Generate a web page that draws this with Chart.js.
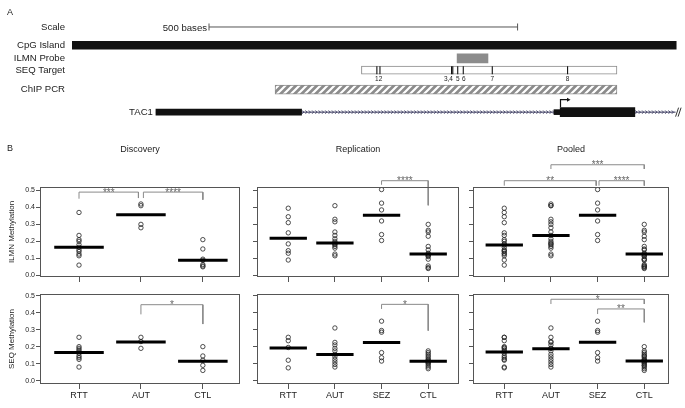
<!DOCTYPE html>
<html>
<head>
<meta charset="utf-8">
<script src="https://cdn.jsdelivr.net/npm/chart.js@4.4.1/dist/chart.umd.min.js"></script>
<style>
  html, body { margin: 0; padding: 0; background: #fff; }
  #page { position: relative; width: 685px; height: 408px; overflow: hidden; font-family: Arial, "Liberation Sans", sans-serif; }
  .box { position: absolute; }
  .box canvas { display: block; }
  .tag { position: absolute; font-size: 9px; line-height: 10px; color: #222; }
</style>
</head>
<body>
<div id="page">
  <div class="box" style="left:0; top:0; width:685px; height:130px;"><canvas id="gene"></canvas></div>
  <div class="box" style="left:0; top:140px; width:245px; height:145px;"><canvas id="ilmnDisc"></canvas></div>
  <div class="box" style="left:245px; top:140px; width:220px; height:145px;"><canvas id="ilmnRep"></canvas></div>
  <div class="box" style="left:465px; top:140px; width:220px; height:145px;"><canvas id="ilmnPool"></canvas></div>
  <div class="box" style="left:0; top:285px; width:245px; height:123px;"><canvas id="seqDisc"></canvas></div>
  <div class="box" style="left:245px; top:285px; width:220px; height:123px;"><canvas id="seqRep"></canvas></div>
  <div class="box" style="left:465px; top:285px; width:220px; height:123px;"><canvas id="seqPool"></canvas></div>
  <div class="tag" style="left:7px; top:7px;">A</div>
  <div class="tag" style="left:7px; top:143px;">B</div>
</div>
<script>
// ---- panel A: TAC1 locus (positions in bases) ----
const trackNames = ['Scale', 'CpG Island', 'ILMN Probe', 'SEQ Target', 'ChIP PCR', 'TAC1'];
const trackRow = [0, 3, 5.15, 7.1, 10.3, 14];
const scaleBar = [222, 722];
const cpgIsland = [0, 979];
const ilmnProbe = [624, 674];
const seqTarget = [469, 883];
const cpgSites = [494, 499, 615, 617, 625, 634, 681, 803];
const cpgSiteLabels = ['12', '3,4', '5', '6', '7', '8'];
const cpgSiteLabelAt = [497, 610, 625, 635, 681, 803];
const chipPcr = [329, 883];
const tac1Span = [136, 978];
const tac1Exons = [[136, 372], [781, 791], [791, 912]];
const tac1Tss = 791;

// ---- panel B: methylation values ----
const discoveryGroups = ['RTT', 'AUT', 'CTL'];
const allGroups = ['RTT', 'AUT', 'SEZ', 'CTL'];
const yTicks = [0, 0.1, 0.2, 0.3, 0.4, 0.5];

const ilmnDiscRTT = [0.37, 0.235, 0.21, 0.2, 0.18, 0.165, 0.15, 0.14, 0.125, 0.115, 0.06];
const ilmnDiscAUT = [0.42, 0.41, 0.3, 0.28];
const ilmnDiscCTL = [0.21, 0.155, 0.095, 0.088, 0.063, 0.055, 0.05];
const ilmnRepRTT = [0.395, 0.345, 0.31, 0.25, 0.185, 0.145, 0.13, 0.09];
const ilmnRepAUT = [0.41, 0.33, 0.315, 0.255, 0.235, 0.215, 0.2, 0.19, 0.185, 0.18, 0.17, 0.16, 0.125, 0.115];
const ilmnRepSEZ = [0.505, 0.425, 0.385, 0.32, 0.24, 0.205];
const ilmnRepCTL = [0.3, 0.265, 0.255, 0.23, 0.17, 0.15, 0.13, 0.125, 0.12, 0.115, 0.11, 0.095, 0.055, 0.045, 0.04];

const seqDiscRTT = [0.255, 0.2, 0.19, 0.18, 0.17, 0.16, 0.145, 0.135, 0.125, 0.08];
const seqDiscAUT = [0.255, 0.23, 0.19];
const seqDiscCTL = [0.2, 0.145, 0.12, 0.09, 0.06];
const seqRepRTT = [0.255, 0.235, 0.195, 0.12, 0.075];
const seqRepAUT = [0.31, 0.225, 0.21, 0.19, 0.175, 0.155, 0.14, 0.125, 0.11, 0.095, 0.08];
const seqRepSEZ = [0.35, 0.295, 0.285, 0.165, 0.135, 0.115];
const seqRepCTL = [0.175, 0.165, 0.155, 0.145, 0.135, 0.125, 0.12, 0.115, 0.11, 0.105, 0.1, 0.09, 0.08, 0.07];

const ilmnDiscMedian = [0.165, 0.357, 0.088];
const ilmnRepMedian = [0.218, 0.19, 0.353, 0.125];
const ilmnPoolMedian = [0.178, 0.234, 0.353, 0.125];
const seqDiscMedian = [0.165, 0.228, 0.114];
const seqRepMedian = [0.192, 0.153, 0.224, 0.114];
const seqPoolMedian = [0.168, 0.187, 0.226, 0.116];

// [from, to, bracket level, left leg end, right leg end, stars]
const ilmnDiscBrackets = [[1, 1.96, 0.49, 0.451, 0.455, '***'], [2.04, 3, 0.49, 0.455, 0.445, '****']];
const ilmnRepBrackets = [[3, 4, 0.557, 0.533, 0.412, '****']];
const ilmnPoolBrackets = [[1, 2.97, 0.557, 0.528, 0.528, '**'], [3.03, 4, 0.557, 0.528, 0.528, '****'], [2, 4, 0.651, 0.626, 0.626, '***']];
const seqDiscBrackets = [[2, 3, 0.447, 0.39, 0.333, '*']];
const seqRepBrackets = [[3, 4, 0.449, 0.422, 0.294, '*']];
const seqPoolBrackets = [[2, 4, 0.479, 0.451, 0.451, '*'], [3, 4, 0.422, 0.392, 0.343, '**']];

const FONT = 'Arial, "Liberation Sans", sans-serif';
Chart.defaults.font.family = FONT;
Chart.defaults.color = '#222';
Chart.defaults.animation = false;

// ---------- panel A ----------
function hatch() {
  const c = document.createElement('canvas');
  c.width = 7; c.height = 7;
  const g = c.getContext('2d');
  g.fillStyle = '#8c8c8c';
  g.fillRect(0, 0, 7, 7);
  g.strokeStyle = '#fff';
  g.lineWidth = 2.2;
  g.beginPath();
  g.moveTo(-1, 1); g.lineTo(1, -1);
  g.moveTo(-1, 8); g.lineTo(8, -1);
  g.moveTo(6, 8); g.lineTo(8, 6);
  g.stroke();
  return g.createPattern(c, 'repeat');
}

const geneDecor = {
  id: 'geneDecor',
  beforeDatasetsDraw(chart) {
    const { ctx, scales: { x, y } } = chart;
    const gy = y.getPixelForValue(trackRow[5]);
    const x0 = x.getPixelForValue(tac1Span[0]);
    const x1 = x.getPixelForValue(tac1Span[1]);
    ctx.save();
    ctx.strokeStyle = '#34345a';
    ctx.lineWidth = 0.8;
    ctx.beginPath();
    for (let px = x0 + 2; px < x1 - 1; px += 3.3) {
      ctx.moveTo(px - 1, gy - 1.7);
      ctx.lineTo(px + 0.7, gy);
      ctx.lineTo(px - 1, gy + 1.7);
    }
    ctx.stroke();
    ctx.restore();
  },
  afterDatasetsDraw(chart) {
    const { ctx, scales: { x, y } } = chart;
    const gy = y.getPixelForValue(trackRow[5]);
    ctx.save();
    // break mark at the end of the drawn gene
    const xe = x.getPixelForValue(tac1Span[1]);
    ctx.strokeStyle = '#333';
    ctx.lineWidth = 1;
    ctx.beginPath();
    [1.5, 4].forEach(d => { ctx.moveTo(xe + d - 1.5, gy + 4.5); ctx.lineTo(xe + d + 1.5, gy - 4.5); });
    ctx.stroke();
    // transcription start arrow
    const xt = Math.round(x.getPixelForValue(tac1Tss)) + 0.5;
    ctx.strokeStyle = '#111';
    ctx.lineWidth = 1.2;
    ctx.beginPath();
    ctx.moveTo(xt, gy - 5);
    ctx.lineTo(xt, gy - 12.5);
    ctx.lineTo(xt + 7, gy - 12.5);
    ctx.stroke();
    ctx.fillStyle = '#111';
    ctx.beginPath();
    ctx.moveTo(xt + 10, gy - 12.5);
    ctx.lineTo(xt + 6.5, gy - 14.5);
    ctx.lineTo(xt + 6.5, gy - 10.5);
    ctx.closePath();
    ctx.fill();
    // texts
    ctx.fillStyle = '#222';
    ctx.textBaseline = 'middle';
    ctx.textAlign = 'right';
    ctx.font = '9.6px ' + FONT;
    ctx.fillText('500 bases', x.getPixelForValue(scaleBar[0]) - 2, y.getPixelForValue(trackRow[0]) + 1);
    ctx.fillText(trackNames[5], x.getPixelForValue(tac1Span[0]) - 3, gy + 0.5);
    ctx.textAlign = 'center';
    ctx.font = '6.5px ' + FONT;
    const ly = y.getPixelForValue(trackRow[3]) + 9.5;
    cpgSiteLabels.forEach((t, i) => ctx.fillText(t, x.getPixelForValue(cpgSiteLabelAt[i]), ly));
    ctx.restore();
  }
};

const exonThickness = [6, 5, 9];
const geneSets = [
  { type: 'scatter', order: 0, data: cpgSites.map(v => ({ x: v, y: trackRow[3] })),
    pointStyle: 'line', pointRotation: 90, pointRadius: 4, pointBorderColor: '#111', pointBorderWidth: 1.1 },
  { type: 'line', order: 1, data: scaleBar.map(v => ({ x: v, y: trackRow[0] })),
    borderColor: '#555', borderWidth: 1, pointStyle: 'line', pointRotation: 90, pointRadius: 3.5,
    pointBorderColor: '#555', pointBorderWidth: 1 },
  { type: 'bar', order: 1, indexAxis: 'y', grouped: false, barThickness: 8,
    data: [{ x: cpgIsland, y: trackRow[1] }], backgroundColor: '#111' },
  { type: 'bar', order: 1, indexAxis: 'y', grouped: false, barThickness: 9,
    data: [{ x: ilmnProbe, y: trackRow[2] }], backgroundColor: '#8c8c8c' },
  { type: 'bar', order: 2, indexAxis: 'y', grouped: false, barThickness: 8,
    data: [{ x: seqTarget, y: trackRow[3] }], backgroundColor: '#fff',
    borderColor: '#8a8a8a', borderWidth: 1, borderSkipped: false },
  { type: 'bar', order: 1, indexAxis: 'y', grouped: false, barThickness: 9,
    data: [{ x: chipPcr, y: trackRow[4] }], backgroundColor: hatch(),
    borderColor: '#8c8c8c', borderWidth: 1, borderSkipped: false },
  ...tac1Exons.map((e, i) => ({ type: 'bar', order: 1, indexAxis: 'y', grouped: false,
    barThickness: exonThickness[i], data: [{ x: e, y: trackRow[5] }], backgroundColor: '#111' })),
  { type: 'line', order: 5, data: tac1Span.map(v => ({ x: v, y: trackRow[5] })),
    borderColor: '#34345a', borderWidth: 1, pointRadius: 0 }
];

new Chart(document.getElementById('gene'), {
  type: 'bar',
  data: { datasets: geneSets },
  options: {
    responsive: true,
    maintainAspectRatio: false,
    layout: { padding: { left: 0, right: 5, top: 0, bottom: 0 } },
    scales: {
      x: { type: 'linear', min: 0, max: 985, offset: false, display: false },
      y: {
        type: 'linear', reverse: true, min: -3.6, max: 16.1, offset: false,
        afterBuildTicks: s => { s.ticks = trackRow.slice(0, 5).map(v => ({ value: v })); },
        ticks: { callback: v => trackNames[trackRow.indexOf(v)], font: { size: 9.6 }, color: '#222', padding: 7, autoSkip: false },
        grid: { display: false, drawTicks: false },
        border: { display: false },
        afterFit: s => { s.width = 72; s.paddingTop = 0; s.paddingBottom = 0; }
      }
    },
    plugins: { legend: { display: false }, tooltip: { enabled: false } }
  },
  plugins: [geneDecor]
});

// ---------- panel B ----------
const frameBox = {
  id: 'frameBox',
  afterDraw(chart) {
    const a = chart.chartArea, ctx = chart.ctx;
    ctx.save();
    ctx.strokeStyle = '#555';
    ctx.lineWidth = 1;
    ctx.strokeRect(Math.round(a.left) + 0.5, Math.round(a.top) + 0.5,
      Math.round(a.right - a.left) - 1, Math.round(a.bottom - a.top) - 1);
    ctx.restore();
  }
};

const starLabels = {
  id: 'starLabels',
  afterDatasetsDraw(chart, args, opts) {
    const { ctx, scales: { x, y } } = chart;
    ctx.save();
    ctx.fillStyle = '#666';
    ctx.font = '10px ' + FONT;
    ctx.textAlign = 'center';
    ctx.textBaseline = 'alphabetic';
    (opts.brackets || []).forEach(b => {
      ctx.fillText(b[5], x.getPixelForValue((b[0] + b[1]) / 2), y.getPixelForValue(b[2]) + 3.5);
    });
    ctx.restore();
  }
};

function methylPanel(id, cfg) {
  const datasets = [];
  cfg.medians.forEach((m, i) => {
    datasets.push({ type: 'line', data: [{ x: i + 0.6, y: m }, { x: i + 1.4, y: m }],
      borderColor: '#000', borderWidth: 3, pointRadius: 0, borderCapStyle: 'butt' });
  });
  cfg.values.forEach((vals, i) => {
    datasets.push({ type: 'scatter', data: vals.map(v => ({ x: i + 1, y: v })),
      pointStyle: 'circle', pointRadius: 2.2, pointBorderWidth: 0.8,
      pointBorderColor: '#222', pointBackgroundColor: 'rgba(0,0,0,0)' });
  });
  cfg.brackets.forEach(b => {
    datasets.push({ type: 'line', clip: false,
      data: [{ x: b[0], y: b[3] }, { x: b[0], y: b[2] }, { x: b[1], y: b[2] }, { x: b[1], y: b[4] }],
      borderColor: '#8a8a8a', borderWidth: 1, pointRadius: 0 });
  });

  return new Chart(document.getElementById(id), {
    type: 'scatter',
    data: { datasets },
    options: {
      responsive: true,
      maintainAspectRatio: false,
      layout: { padding: cfg.pad },
      scales: {
        x: {
          type: 'linear', min: cfg.xRange[0], max: cfg.xRange[1],
          afterBuildTicks: s => { s.ticks = cfg.groups.map((g, i) => ({ value: i + 1 })); },
          ticks: { display: cfg.xLabels, callback: v => cfg.groups[v - 1], font: { size: 9 },
            color: '#222', padding: 1, maxRotation: 0, autoSkip: false },
          grid: { display: true, drawOnChartArea: false, drawTicks: true, tickLength: 5, color: '#555' },
          border: { display: false },
          afterFit: s => { s.height = cfg.xHeight; s.paddingLeft = 0; s.paddingRight = 0; }
        },
        y: {
          type: 'linear', min: cfg.yRange[0], max: cfg.yRange[1],
          afterBuildTicks: s => { s.ticks = yTicks.map(v => ({ value: v })); },
          ticks: { display: !!cfg.yTitle, callback: v => v.toFixed(1), font: { size: 7 }, color: '#222', padding: 1 },
          grid: { display: true, drawOnChartArea: false, drawTicks: true, tickLength: 4, color: '#555' },
          border: { display: false },
          title: { display: !!cfg.yTitle, text: cfg.yTitle || '', font: { size: 8 }, color: '#222', padding: { top: 7, bottom: 0 } },
          afterFit: s => { s.width = cfg.yWidth; s.paddingTop = 0; s.paddingBottom = 0; }
        }
      },
      plugins: {
        legend: { display: false },
        tooltip: { enabled: false },
        title: cfg.title
          ? { display: true, text: cfg.title, fullSize: false, font: { size: 9, weight: 'normal' }, color: '#222', padding: { top: 4.6, bottom: 31.6 } }
          : { display: false },
        starLabels: { brackets: cfg.brackets }
      }
    },
    plugins: [frameBox, starLabels]
  });
}

const topRow = { yRange: [-0.01, 0.52], xHeight: 8, xLabels: false };
const bottomRow = { yRange: [-0.02, 0.51], xHeight: 24, xLabels: true };
const colDisc = { xRange: [0.37, 3.6], yWidth: 40 };
const colRep = { xRange: [0.33, 4.66], yWidth: 12 };
const colPool = { xRange: [0.33, 4.53], yWidth: 8 };

methylPanel('ilmnDisc', { ...topRow, ...colDisc, title: 'Discovery', yTitle: 'ILMN Methylation',
  pad: { left: 0, right: 5, top: 0, bottom: 0 }, groups: discoveryGroups,
  values: [ilmnDiscRTT, ilmnDiscAUT, ilmnDiscCTL], medians: ilmnDiscMedian, brackets: ilmnDiscBrackets });
methylPanel('ilmnRep', { ...topRow, ...colRep, title: 'Replication',
  pad: { left: 0, right: 6, top: 0, bottom: 0 }, groups: allGroups,
  values: [ilmnRepRTT, ilmnRepAUT, ilmnRepSEZ, ilmnRepCTL], medians: ilmnRepMedian, brackets: ilmnRepBrackets });
methylPanel('ilmnPool', { ...topRow, ...colPool, title: 'Pooled',
  pad: { left: 0, right: 16, top: 0, bottom: 0 }, groups: allGroups,
  values: [ilmnDiscRTT.concat(ilmnRepRTT), ilmnDiscAUT.concat(ilmnRepAUT), ilmnRepSEZ, ilmnDiscCTL.concat(ilmnRepCTL)],
  medians: ilmnPoolMedian, brackets: ilmnPoolBrackets });

methylPanel('seqDisc', { ...bottomRow, ...colDisc, yTitle: 'SEQ Methylation',
  pad: { left: 0, right: 5, top: 9, bottom: 0 }, groups: discoveryGroups,
  values: [seqDiscRTT, seqDiscAUT, seqDiscCTL], medians: seqDiscMedian, brackets: seqDiscBrackets });
methylPanel('seqRep', { ...bottomRow, ...colRep,
  pad: { left: 0, right: 6, top: 9, bottom: 0 }, groups: allGroups,
  values: [seqRepRTT, seqRepAUT, seqRepSEZ, seqRepCTL], medians: seqRepMedian, brackets: seqRepBrackets });
methylPanel('seqPool', { ...bottomRow, ...colPool,
  pad: { left: 0, right: 16, top: 9, bottom: 0 }, groups: allGroups,
  values: [seqDiscRTT.concat(seqRepRTT), seqDiscAUT.concat(seqRepAUT), seqRepSEZ, seqDiscCTL.concat(seqRepCTL)],
  medians: seqPoolMedian, brackets: seqPoolBrackets });
</script>
</body>
</html>
